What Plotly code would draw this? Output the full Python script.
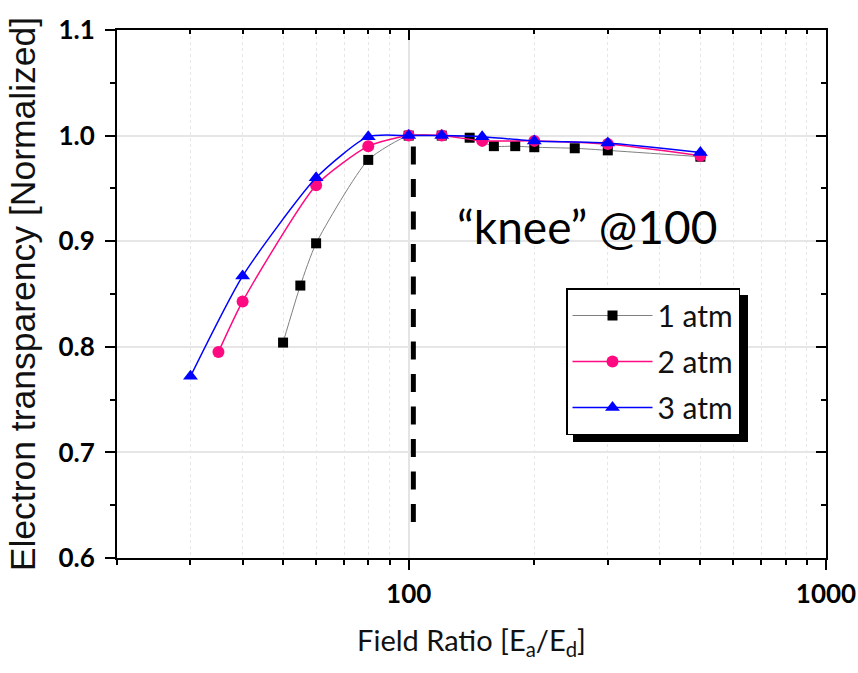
import math
import plotly.graph_objects as go

# ---------------- data ----------------
x_1atm = [50, 55, 60, 80, 100, 120, 140, 160, 180, 200, 250, 300, 500]
y_1atm = [0.804, 0.858, 0.898, 0.977, 1.000, 1.000, 0.998, 0.990, 0.990, 0.989, 0.988, 0.986, 0.980]

x_2atm = [35, 40, 60, 80, 100, 120, 150, 200, 300, 500]
y_2atm = [0.795, 0.843, 0.953, 0.990, 1.000, 1.000, 0.995, 0.995, 0.992, 0.981]

x_3atm = [30, 40, 60, 80, 100, 120, 150, 200, 300, 500]
y_3atm = [0.772, 0.867, 0.960, 0.999, 1.000, 1.000, 0.999, 0.995, 0.993, 0.984]

knee_x = [102.6, 102.6]
knee_y = [0.634, 0.990]

x_major = [100, 1000]
x_major_text = ["100", "1000"]
x_minor = [20, 30, 40, 50, 60, 70, 80, 90, 200, 300, 400, 500, 600, 700, 800, 900]
y_major = [0.6, 0.7, 0.8, 0.9, 1.0, 1.1]
y_major_text = ["0.6", "0.7", "0.8", "0.9", "1.0", "1.1"]
y_minor = [0.65, 0.75, 0.85, 0.95, 1.05]

# ---------------- figure ----------------
W, H = 858, 673
ML, MR, MT, MB = 117, 32, 30, 115

BLACK = "#000000"
PINK = "#ff0a80"
BLUE = "#0000ff"
GREY_LINE = "#7f7f7f"

fig = go.Figure()

fig.add_trace(go.Scatter(
    x=x_1atm, y=y_1atm, name="1 atm", mode="lines+markers",
    line=dict(color=GREY_LINE, width=1, shape="spline", smoothing=0.6),
    marker=dict(symbol="square", size=10, color=BLACK),
    legendgroup="a",
))
fig.add_trace(go.Scatter(
    x=x_2atm, y=y_2atm, name="2 atm", mode="lines+markers",
    line=dict(color=PINK, width=1.5, shape="spline", smoothing=0.6),
    marker=dict(symbol="circle", size=12, color=PINK),
    legendgroup="b",
))
fig.add_trace(go.Scatter(
    x=x_3atm, y=y_3atm, name="3 atm", mode="lines+markers",
    line=dict(color=BLUE, width=1.5, shape="spline", smoothing=0.6),
    marker=dict(symbol="triangle-up", size=13, color=BLUE),
    legendgroup="c",
))
fig.add_trace(go.Scatter(
    x=knee_x, y=knee_y, mode="lines", showlegend=False, hoverinfo="skip",
    line=dict(color=BLACK, width=5, dash="18px,14.5px"),
))
# invisible trace to anchor the mirrored (inside-tick) axes
fig.add_trace(go.Scatter(x=[100], y=[0.8], xaxis="x2", yaxis="y2", mode="markers",
                         marker=dict(opacity=0), showlegend=False, hoverinfo="skip"))

xr = [math.log10(20), 3]
yr = [0.6, 1.1]
tickfont = dict(family="Lato", size=26, color=BLACK, weight="bold")

fig.update_layout(
    width=W, height=H,
    margin=dict(l=ML, r=MR, t=MT, b=MB, autoexpand=False),
    paper_bgcolor="white", plot_bgcolor="white",
    xaxis=dict(
        type="log", range=xr, tickmode="array", tickvals=x_major, ticktext=x_major_text,
        ticks="outside", ticklen=10, tickwidth=2, tickcolor=BLACK, tickfont=tickfont,
        ticklabelstandoff=2, automargin=False,
        showline=True, linecolor=BLACK, linewidth=2, mirror=True,
        showgrid=True, gridcolor="#e4e4e4", gridwidth=1.5, zeroline=False,
        minor=dict(tickmode="array", tickvals=x_minor, ticks="outside", ticklen=5,
                   tickwidth=1.5, tickcolor=BLACK, showgrid=True,
                   gridcolor="#e6e6e6", griddash="dot", gridwidth=1),
        title=dict(text="Field Ratio [E<sub>a</sub>/E<sub>d</sub>]",
                   font=dict(family="Lato", size=29, color="#111111"), standoff=22),
    ),
    yaxis=dict(
        range=yr, tickmode="array", tickvals=y_major, ticktext=y_major_text,
        ticks="outside", ticklen=10, tickwidth=2, tickcolor=BLACK, tickfont=tickfont,
        ticklabelstandoff=5, automargin=False,
        showline=True, linecolor=BLACK, linewidth=2, mirror=True,
        showgrid=True, gridcolor="#e6e6e6", gridwidth=1.5, zeroline=False,
        minor=dict(tickmode="array", tickvals=y_minor, ticks="outside", ticklen=5,
                   tickwidth=1.5, tickcolor=BLACK, showgrid=False),
        title=dict(text="Electron transparency [Normalized]",
                   font=dict(family="Liberation Sans", size=35.5, color="#111111"), standoff=12),
    ),
    xaxis2=dict(
        type="log", range=xr, overlaying="x", side="top", tickmode="array",
        tickvals=x_major, ticks="inside", ticklen=10, tickwidth=2, tickcolor=BLACK,
        showticklabels=False, showgrid=False, showline=False, zeroline=False,
        automargin=False,
        minor=dict(tickmode="array", tickvals=x_minor, ticks="inside", ticklen=4,
                   tickwidth=1.5, tickcolor=BLACK, showgrid=False),
    ),
    yaxis2=dict(
        range=yr, overlaying="y", side="right", tickmode="array",
        tickvals=y_major, ticks="inside", ticklen=10, tickwidth=2, tickcolor=BLACK,
        showticklabels=False, showgrid=False, showline=False, zeroline=False,
        automargin=False,
        minor=dict(tickmode="array", tickvals=y_minor, ticks="inside", ticklen=5,
                   tickwidth=1.5, tickcolor=BLACK, showgrid=False),
    ),
    legend=dict(
        x=(566 - ML) / (W - ML - MR), y=(H - MB - 288) / (H - MB - MT),
        xanchor="left", yanchor="top",
        bgcolor="white", bordercolor=BLACK, borderwidth=1.5,
        font=dict(family="Lato", size=30, color="#111111"),
        itemwidth=80, tracegroupgap=4,
    ),
    showlegend=True,
)

# legend drop shadow
pw, ph = W - ML - MR, H - MB - MT
fig.add_shape(type="rect", xref="paper", yref="paper", layer="above",
              x0=(573 - ML) / pw, x1=(748 - ML) / pw,
              y0=(H - MB - 442) / ph, y1=(H - MB - 295) / ph,
              fillcolor=BLACK, line=dict(width=0))

fig.add_annotation(
    text="\u201cknee\u201d @100", xref="paper", yref="paper",
    x=(586.7 - ML) / pw, y=(H - MB - 226) / ph, showarrow=False,
    font=dict(family="Lato", size=46, color=BLACK),
)

fig.write_html("out.html")
